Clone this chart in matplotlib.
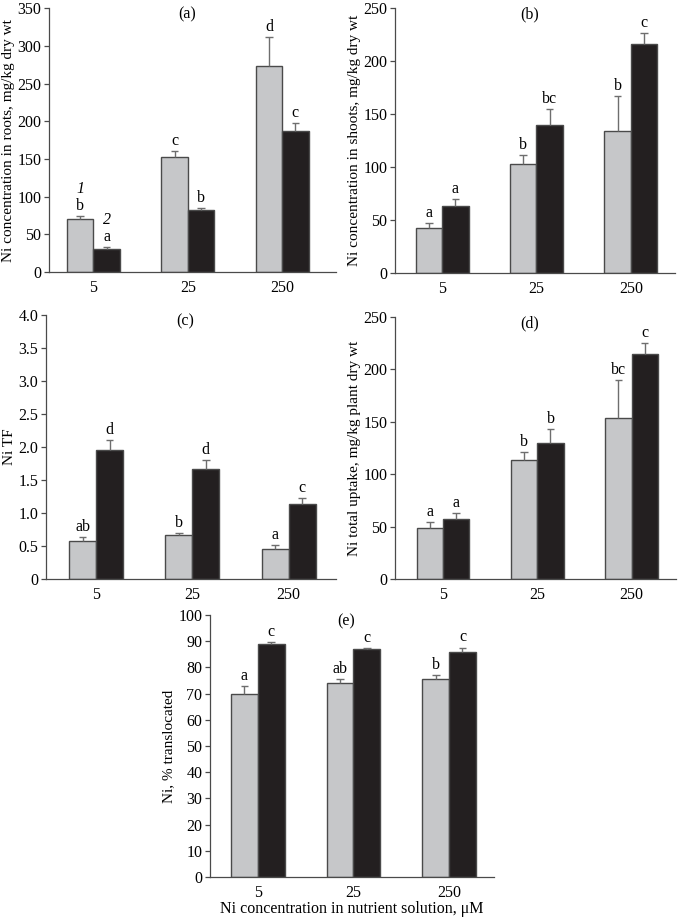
import numpy as np
import matplotlib
matplotlib.use("Agg")
import matplotlib.pyplot as plt

plt.rcParams["font.family"] = ["Liberation Serif", "DejaVu Serif"]
plt.rcParams["font.size"] = 10.5

conc = ["5", "25", "250"]

# (a) roots
roots_1 = [70, 152, 273]
roots_1_err = [4, 8, 39]
roots_2 = [31, 82, 187]
roots_2_err = [2, 3, 11]
roots_lab_1 = ["b", "c", "d"]
roots_lab_2 = ["a", "b", "c"]

# (b) shoots
shoots_1 = [42.5, 103, 134]
shoots_1_err = [5, 8, 33]
shoots_2 = [63, 140, 216]
shoots_2_err = [6.5, 15, 11]
shoots_lab_1 = ["a", "b", "b"]
shoots_lab_2 = ["a", "bc", "c"]

# (c) translocation factor
tf_1 = [0.58, 0.66, 0.46]
tf_1_err = [0.05, 0.04, 0.06]
tf_2 = [1.95, 1.67, 1.14]
tf_2_err = [0.16, 0.14, 0.09]
tf_lab_1 = ["ab", "b", "a"]
tf_lab_2 = ["d", "d", "c"]

# (d) total uptake
upt_1 = [49, 113.5, 154]
upt_1_err = [5, 7.5, 36]
upt_2 = [57, 129.5, 214.5]
upt_2_err = [5.7, 13.3, 10.5]
upt_lab_1 = ["a", "b", "bc"]
upt_lab_2 = ["a", "b", "c"]

# (e) % translocated
tr_1 = [70, 74, 75.7]
tr_1_err = [2.8, 1.5, 1.4]
tr_2 = [89, 87, 85.9]
tr_2_err = [0.6, 0.5, 1.7]
tr_lab_1 = ["a", "ab", "b"]
tr_lab_2 = ["c", "c", "c"]

GRAY = "#c6c7c9"
BLACK = "#231f20"
EDGE = "#4a4a4a"
ERR = "#6e6e6e"
W = 0.28


def panel(ax, v1, e1, v2, e2, l1, l2, ylim, yticks, ytl, ylabel, title, xlim):
    x = np.arange(len(conc))
    ax.bar(x - W / 2, v1, W, color=GRAY, edgecolor=EDGE, linewidth=1.0, zorder=2)
    ax.bar(x + W / 2, v2, W, color=BLACK, edgecolor=EDGE, linewidth=1.0, zorder=2)
    for xs, v, e, labs in [(x - W / 2, v1, e1, l1), (x + W / 2, v2, e2, l2)]:
        top = np.array(v) + np.array(e)
        ax.vlines(xs, v, top, color=ERR, lw=1.0, zorder=3)
        ax.hlines(top, xs - 0.04, xs + 0.04, color=ERR, lw=1.0, zorder=3)
        for xi, ti, lab in zip(xs, top, labs):
            ax.annotate(lab, (xi, ti), xytext=(0, 1.5), textcoords="offset points",
                        ha="center", va="bottom", fontsize=11.5)
    ax.set_xlim(*xlim)
    ax.set_ylim(*ylim)
    ax.set_xticks(x)
    ax.set_xticklabels(conc, fontsize=11.5)
    ax.set_yticks(yticks)
    ax.set_yticklabels(ytl, fontsize=11.5)
    ax.tick_params(axis="x", length=0, pad=6)
    ax.tick_params(axis="y", length=3.5, width=0.9, direction="out", color=EDGE, pad=2)
    for s in ["top", "right"]:
        ax.spines[s].set_visible(False)
    for s in ["left", "bottom"]:
        ax.spines[s].set_color(EDGE)
        ax.spines[s].set_linewidth(0.9)
    ax.set_ylabel(ylabel, fontsize=11, labelpad=2)
    ax.text(0.48, 0.975, title, transform=ax.transAxes, ha="center", va="center", fontsize=11.5)


fig = plt.figure(figsize=(6.85, 9.19), dpi=100)

ax_a = fig.add_axes([0.0715, 0.704, 0.419, 0.287])
ax_b = fig.add_axes([0.5766, 0.703, 0.409, 0.288])
ax_c = fig.add_axes([0.0672, 0.370, 0.423, 0.287])
ax_d = fig.add_axes([0.5766, 0.370, 0.410, 0.285])
ax_e = fig.add_axes([0.3066, 0.0457, 0.4146, 0.285])

panel(ax_a, roots_1, roots_1_err, roots_2, roots_2_err, roots_lab_1, roots_lab_2,
      (0, 350), np.arange(0, 351, 50), [str(v) for v in range(0, 351, 50)],
      "Ni concentration in roots, mg/kg dry wt", "(a)", (-0.47, 2.57))
panel(ax_b, shoots_1, shoots_1_err, shoots_2, shoots_2_err, shoots_lab_1, shoots_lab_2,
      (0, 250), np.arange(0, 251, 50), [str(v) for v in range(0, 251, 50)],
      "Ni concentration in shoots, mg/kg dry wt", "(b)", (-0.5, 2.47))
tf_ticks = np.arange(0, 4.01, 0.5)
panel(ax_c, tf_1, tf_1_err, tf_2, tf_2_err, tf_lab_1, tf_lab_2,
      (0, 4.0), tf_ticks, ["0"] + ["%.1f" % t for t in tf_ticks[1:]],
      "Ni TF", "(c)", (-0.52, 2.49))
panel(ax_d, upt_1, upt_1_err, upt_2, upt_2_err, upt_lab_1, upt_lab_2,
      (0, 250), np.arange(0, 251, 50), [str(v) for v in range(0, 251, 50)],
      "Ni total uptake, mg/kg plant dry wt", "(d)", (-0.51, 2.47))
panel(ax_e, tr_1, tr_1_err, tr_2, tr_2_err, tr_lab_1, tr_lab_2,
      (0, 100), np.arange(0, 101, 10), [str(v) for v in range(0, 101, 10)],
      "Ni, % translocated", "(e)", (-0.5, 2.47))
ax_e.set_xlabel("Ni concentration in nutrient solution, μM", fontsize=11.5, labelpad=0)

# series numbers in panel (a)
ax_a.annotate("1", (-W / 2, roots_1[0] + roots_1_err[0]), xytext=(0, 14), textcoords="offset points",
              ha="center", va="bottom", fontsize=11.5, style="italic")
ax_a.annotate("2", (W / 2, roots_2[0] + roots_2_err[0]), xytext=(0, 14), textcoords="offset points",
              ha="center", va="bottom", fontsize=11.5, style="italic")

fig.savefig("out.png", dpi=100)
